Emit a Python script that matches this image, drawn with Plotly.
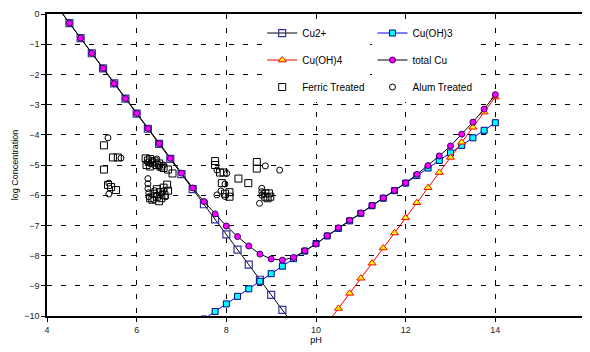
import plotly.graph_objects as go

# ---- data ----
ph_cu2 = [4.25, 4.5, 4.75, 5.0, 5.25, 5.5, 5.75, 6.0, 6.25, 6.5, 6.75, 7.0, 7.25, 7.5,
          7.75, 8.0, 8.25, 8.5, 8.75, 9.0, 9.25, 9.5]
cu2 = [0.2, -0.3, -0.8, -1.3, -1.8, -2.3, -2.8, -3.3, -3.8, -4.3, -4.8, -5.3, -5.8, -6.3,
       -6.8, -7.3, -7.8, -8.3, -8.8, -9.3, -9.8, -10.3]

ph_oh3 = [7.5, 7.75, 8.0, 8.25, 8.5, 8.75, 9.0, 9.25, 9.5, 9.75, 10.0, 10.25, 10.5, 10.75,
          11.0, 11.25, 11.5, 11.75, 12.0, 12.25, 12.5, 12.75, 13.0, 13.25, 13.5, 13.75, 14.0]
cuoh3 = [-10.1, -9.85, -9.6, -9.35, -9.1, -8.85, -8.6, -8.35, -8.1, -7.85, -7.6, -7.35, -7.1,
         -6.85, -6.6, -6.35, -6.1, -5.85, -5.6, -5.35, -5.1, -4.85, -4.6, -4.35, -4.1, -3.85, -3.6]

ph_oh4 = [10.25, 10.5, 10.75, 11.0, 11.25, 11.5, 11.75, 12.0, 12.25, 12.5, 12.75, 13.0,
          13.25, 13.5, 13.75, 14.0]
cuoh4 = [-10.25, -9.75, -9.25, -8.75, -8.25, -7.75, -7.25, -6.75, -6.25, -5.75, -5.25,
         -4.75, -4.25, -3.75, -3.25, -2.75]

ph_tot = [4.25, 4.5, 4.75, 5.0, 5.25, 5.5, 5.75, 6.0, 6.25, 6.5, 6.75, 7.0, 7.25, 7.5,
          7.75, 8.0, 8.25, 8.5, 8.75, 9.0, 9.25, 9.5, 9.75, 10.0, 10.25, 10.5, 10.75, 11.0,
          11.25, 11.5, 11.75, 12.0, 12.25, 12.5, 12.75, 13.0, 13.25, 13.5, 13.75, 14.0]
total = [0.2, -0.3, -0.8, -1.3, -1.8, -2.3, -2.8, -3.29, -3.79, -4.29, -4.78, -5.27, -5.76,
         -6.21, -6.62, -7.02, -7.37, -7.68, -7.95, -8.11, -8.15, -8.06, -7.84, -7.62, -7.34,
         -7.08, -6.83, -6.59, -6.34, -6.09, -5.84, -5.59, -5.31, -5.02, -4.70, -4.37, -3.98,
         -3.58, -3.15, -2.67]

ferric_ph = [5.27, 5.47, 5.58, 5.27, 5.36, 5.43, 5.54,
             6.20, 6.25, 6.30, 6.35, 6.40, 6.45, 6.50, 6.55, 6.60, 6.70, 6.80, 6.22, 6.30,
             6.30, 6.38, 6.45, 6.45, 6.52, 6.55, 6.60, 6.62, 6.68, 6.70, 6.35, 6.50,
             7.75, 7.75, 7.86, 7.94, 7.90, 8.27, 8.49, 7.97, 8.07, 8.07,
             8.68, 8.68, 8.87, 8.95, 8.98, 8.87, 8.92]
ferric = [-4.35, -4.75, -4.75, -5.15, -5.66, -5.73, -5.83,
          -4.78, -4.85, -4.80, -4.92, -4.88, -5.00, -4.95, -5.05, -5.10, -5.15, -5.28, -5.00, -5.05,
          -6.10, -5.95, -6.05, -5.80, -5.90, -6.10, -5.75, -6.00, -5.65, -5.85, -6.15, -6.20,
          -4.87, -5.00, -5.25, -5.25, -5.60, -5.45, -5.60, -5.95, -5.90, -6.05,
          -4.90, -5.12, -5.94, -5.94, -6.05, -6.05, -6.10]

alum_ph = [5.36, 5.65, 5.38, 5.38,
           6.25, 6.35, 6.40, 6.50, 6.45, 6.60, 6.30,
           6.25, 6.25, 6.25, 6.27, 6.27, 6.40, 6.45, 6.55, 6.60, 6.65, 6.38,
           7.79, 8.01, 7.97, 7.79, 7.88, 7.97,
           8.87, 9.19, 8.79, 8.79, 8.79, 8.74]
alum = [-4.10, -4.77, -5.60, -5.96,
        -4.90, -4.85, -5.02, -5.08, -4.80, -5.00, -4.95,
        -5.45, -5.62, -5.78, -5.92, -6.05, -5.85, -6.00, -5.95, -5.85, -6.05, -6.15,
        -5.17, -5.28, -5.63, -5.99, -5.86, -6.04,
        -5.03, -5.17, -5.77, -5.88, -6.00, -6.27]

x_ticks = [4, 6, 8, 10, 12, 14, 16]
y_ticks = [0, -1, -2, -3, -4, -5, -6, -7, -8, -9, -10]

FONT = "Liberation Sans, Arial, sans-serif"

fig = go.Figure()
fig.add_trace(go.Scatter(x=ph_cu2, y=cu2, name="Cu2+", mode="lines+markers",
                         line=dict(color="black", width=1),
                         marker=dict(symbol="square-open", size=7, color="#333399",
                                     line=dict(width=1.2)),
                         legend="legend", legendgroup="a"))
fig.add_trace(go.Scatter(x=ph_oh3, y=cuoh3, name="Cu(OH)3", mode="lines+markers",
                         line=dict(color="#0000FF", width=1),
                         marker=dict(symbol="square", size=6, color="#00FFFF",
                                     line=dict(color="#000080", width=1)),
                         legend="legend2", legendgroup="b"))
fig.add_trace(go.Scatter(x=ph_oh4, y=cuoh4, name="Cu(OH)4", mode="lines+markers",
                         line=dict(color="#FF0000", width=1),
                         marker=dict(symbol="triangle-up", size=7, color="#FFFF00",
                                     line=dict(color="#FF0000", width=1)),
                         legend="legend", legendgroup="c"))
fig.add_trace(go.Scatter(x=ph_tot, y=total, name="total Cu", mode="lines+markers",
                         line=dict(color="black", width=1),
                         marker=dict(symbol="circle", size=6, color="#FF00FF",
                                     line=dict(color="#330066", width=1)),
                         legend="legend2", legendgroup="d"))
fig.add_trace(go.Scatter(x=ferric_ph, y=ferric, name="Ferric Treated", mode="markers",
                         marker=dict(symbol="square-open", size=7, color="black",
                                     line=dict(width=1)),
                         legend="legend", legendgroup="e"))
fig.add_trace(go.Scatter(x=alum_ph, y=alum, name="Alum Treated", mode="markers",
                         marker=dict(symbol="circle-open", size=6, color="black",
                                     line=dict(width=1)),
                         legend="legend2", legendgroup="f"))

axis_common = dict(showline=True, linecolor="black", linewidth=1.5, mirror=True,
                   showgrid=True, gridcolor="black", gridwidth=1, griddash="5px,9px",
                   zeroline=False, ticks="outside", ticklen=4, tickcolor="black",
                   tickfont=dict(family=FONT, size=9, color="#222222"))

# the page body adds an 8px offset, so the figure is 8px smaller and its margins compensate
fig.update_layout(
    width=582, height=344,
    margin=dict(l=39, r=5, t=6, b=36),
    paper_bgcolor="white", plot_bgcolor="white",
    font=dict(family=FONT, size=10, color="black"),
    xaxis=dict(range=[4, 16], tickvals=x_ticks, automargin=True,
               title=dict(text="pH", font=dict(family=FONT, size=9), standoff=2),
               **axis_common),
    yaxis=dict(range=[-10, 0], tickvals=y_ticks, automargin=False,
               title=dict(text="log Concentration", font=dict(family=FONT, size=9), standoff=4),
               **axis_common),
    legend=dict(x=0.40, y=0.985, xanchor="left", yanchor="top", bgcolor="white",
                tracegroupgap=8, font=dict(family=FONT, size=10), itemwidth=30),
    legend2=dict(x=0.605, y=0.985, xanchor="left", yanchor="top", bgcolor="white",
                 tracegroupgap=8, font=dict(family=FONT, size=10), itemwidth=30),
)

fig.write_html("out.html")
